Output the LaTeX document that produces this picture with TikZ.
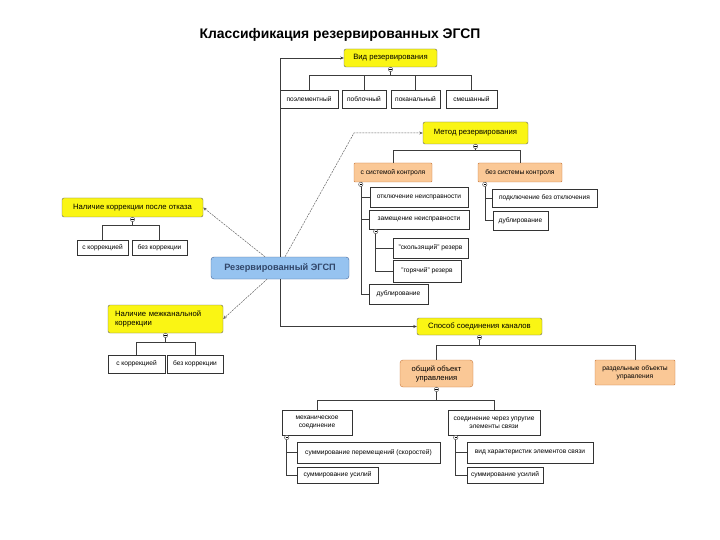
\documentclass[tikz,border=0pt]{standalone}
\usepackage{fontspec}
\setmainfont{Liberation Sans}
\usetikzlibrary{arrows.meta}
\definecolor{ybr}{RGB}{250,245,20}
\definecolor{orf}{RGB}{250,200,150}
\definecolor{ord}{RGB}{200,120,60}
\definecolor{blf}{RGB}{150,195,240}
\definecolor{bld}{RGB}{70,100,150}
\definecolor{ln}{RGB}{60,60,60}
\tikzset{
  yel/.style={draw=black!60, fill=ybr, rounded corners=2pt, inner sep=0pt, align=center, font=\fontsize{7.7}{9}\selectfont},
  org/.style={draw=ord, fill=orf, rounded corners=1pt, inner sep=0pt, align=center, font=\fontsize{6.7}{8}\selectfont},
  orgr/.style={org, rounded corners=3pt, font=\fontsize{7.6}{9}\selectfont},
  blu/.style={draw=bld, fill=blf, rounded corners=3pt, inner sep=0pt, align=center, text=bld!70!black, font=\fontsize{9.2}{11}\bfseries},
  leaf/.style={draw=black!80, fill=white, inner sep=0pt, align=center, line width=0.6pt, font=\fontsize{6.6}{7.8}\selectfont},
  con/.style={draw=ln, line width=0.6pt},
  dsh/.style={draw=black!60, line width=0.5pt, dash pattern=on 2pt off 1pt},
  tip/.style={-{Stealth[length=3.5pt,width=3pt]}},
}
\newcommand\nd[7]{\node[#2, minimum width={#5-#3}, minimum height={#6-#4}] (#1) at ({(#3+#5)/2},{(#4+#6)/2}) {#7};}
\newcommand\cc[1]{\draw[fill=white,draw=black!75,line width=0.4pt] (#1) circle (2.2pt); \draw[line width=0.4pt] ([xshift=-1.2pt]#1) -- ([xshift=1.2pt]#1);}
\begin{document}
\begin{tikzpicture}[x=1pt,y=-1pt]
\useasboundingbox[fill=white] (0,0) rectangle (720,540);
\node[font=\fontsize{13.9}{16}\bfseries] (title) at (340,35) {Классификация резервированных ЭГСП};

% center
\nd{ctr}{blu}{211}{257}{349}{279}{Резервированный ЭГСП}

% Вид резервирования
\nd{vid}{yel}{344}{49}{437}{67}{Вид резервирования}
\nd{v1}{leaf}{280}{90}{338}{108}{поэлементный}
\nd{v2}{leaf}{342}{90}{386}{108}{поблочный}
\nd{v3}{leaf}{391}{90}{440}{108}{поканальный}
\nd{v4}{leaf}{446}{90}{497}{108}{смешанный}
\foreach \c in {v1,v2,v3,v4} \draw[con] (vid.south) -- ++(0,8) -| (\c.north);

% Метод резервирования
\nd{met}{yel}{423}{122}{528}{144}{Метод резервирования}
\nd{sk}{org}{354}{163}{432}{182}{с системой контроля}
\nd{bsk}{org}{478}{163}{562}{182}{без системы контроля}
\foreach \c in {sk,bsk} \draw[con] (met.south) -- ++(0,6) -| (\c.north);
\nd{o1}{leaf}{370}{187}{468}{207}{отключение неисправности}
\nd{o2}{leaf}{369}{210}{469}{229}{замещение неисправности}
\nd{o3}{leaf}{369}{284}{428}{304}{дублирование}
\foreach \c in {o1,o2,o3} \draw[con] ([xshift=7pt]sk.south west) |- (\c.west);
\nd{s1}{leaf}{393}{238}{468}{258}{"скользящий" резерв}
\nd{s2}{leaf}{393}{260}{461}{282}{"горячий" резерв}
\foreach \c in {s1,s2} \draw[con] ([xshift=7pt]o2.south west) |- (\c.west);
\nd{p1}{leaf}{492}{189}{597}{207}{подключение без отключения}
\nd{p2}{leaf}{493}{211}{548}{230}{дублирование}
\foreach \c in {p1,p2} \draw[con] ([xshift=7pt]bsk.south west) |- (\c.west);

% Наличие коррекции после отказа
\nd{kor}{yel}{62}{198}{203}{217}{Наличие коррекции после отказа}
\nd{k1}{leaf}{77}{240}{128}{255}{с коррекцией}
\nd{k2}{leaf}{132}{240}{187}{255}{без коррекции}
\foreach \c in {k1,k2} \draw[con] (kor.south) -- ++(0,8) -| (\c.north);

% Наличие межканальной коррекции
\nd{mk}{yel,align=left,text width=101pt}{108}{305}{223}{333}{Наличие межканальной\\коррекции}
\nd{m1}{leaf}{108}{355}{165}{373}{с коррекцией}
\nd{m2}{leaf}{167}{355}{223}{373}{без коррекции}
\foreach \c in {m1,m2} \draw[con] (mk.south) -- ++(0,9) -| (\c.north);

% Способ соединения каналов
\nd{spos}{yel}{417}{318}{542}{335}{Способ соединения каналов}
\nd{ob}{orgr}{400}{360}{473}{387}{общий объект\\управления}
\nd{rz}{org}{595}{360}{675}{385}{раздельные объекты\\управления}
\foreach \c in {ob,rz} \draw[con] (spos.south) -- ++(0,10) -| (\c.north);
\nd{me}{leaf}{282}{410}{352}{435}{механическое\\соединение}
\nd{up}{leaf}{448}{410}{540}{435}{соединение через упругие\\элементы связи}
\foreach \c in {me,up} \draw[con] (ob.south) -- ++(0,13) -| (\c.north);
\nd{sp1}{leaf}{297}{442}{440}{463}{суммирование перемещений (скоростей)}
\nd{sp2}{leaf}{297}{467}{378}{483}{суммирование усилий}
\foreach \c in {sp1,sp2} \draw[con] ([xshift=5pt]me.south west) |- (\c.west);
\nd{u1}{leaf}{467}{442}{593}{463}{вид характеристик элементов связи}
\nd{u2}{leaf}{467}{467}{543}{483}{суммирование усилий}
\foreach \c in {u1,u2} \draw[con] ([xshift=8pt]up.south west) |- (\c.west);

% links from center
\draw[con,tip] (ctr.north) |- (vid.west);
\draw[con,tip] (ctr.south) |- (spos.west);
\coordinate (kn) at (354,133);
\draw[dsh,tip] ([xshift=5pt]ctr.north) -- (kn) -- (met.west);
\draw[dsh,tip] ([xshift=-15pt]ctr.north) -- (kor.east);
\draw[dsh,tip] ([xshift=-13pt]ctr.south) -- (mk.east);

% collapse markers
\coordinate (c1) at ([yshift=-2.2pt]vid.south); \cc{c1}
\coordinate (c2) at ([yshift=-2.2pt]met.south); \cc{c2}
\coordinate (c3) at ([xshift=7pt,yshift=-2.2pt]sk.south west); \cc{c3}
\coordinate (c4) at ([xshift=7pt,yshift=-2.2pt]bsk.south west); \cc{c4}
\coordinate (c5) at ([xshift=7pt,yshift=-2.2pt]o2.south west); \cc{c5}
\coordinate (c6) at ([yshift=-2.2pt]kor.south); \cc{c6}
\coordinate (c7) at ([yshift=-2.2pt]mk.south); \cc{c7}
\coordinate (c8) at ([yshift=-2.2pt]spos.south); \cc{c8}
\coordinate (c9) at ([yshift=-2.2pt]ob.south); \cc{c9}
\coordinate (c10) at ([xshift=5pt,yshift=-2.2pt]me.south west); \cc{c10}
\coordinate (c11) at ([xshift=8pt,yshift=-2.2pt]up.south west); \cc{c11}
\end{tikzpicture}
\end{document}
